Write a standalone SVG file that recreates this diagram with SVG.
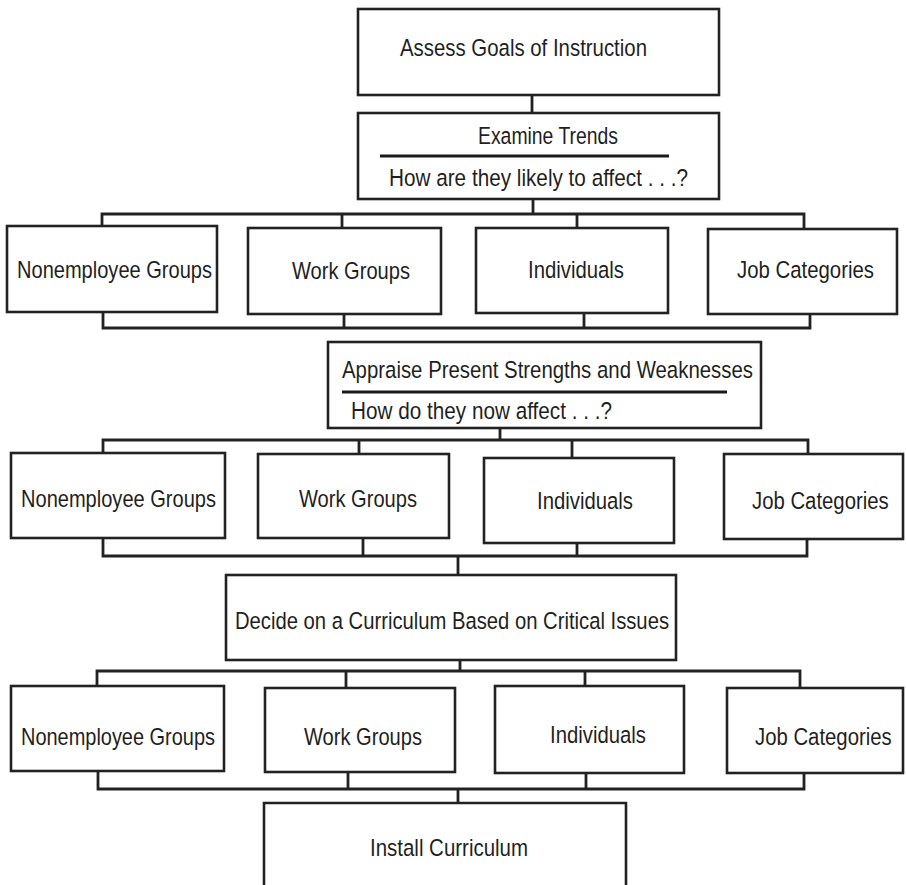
<svg xmlns="http://www.w3.org/2000/svg" width="906" height="885" viewBox="0 0 906 885">
  <style>
    .box { fill: #ffffff; stroke: #222222; stroke-width: 2.6; }
    .wire { fill: none; stroke: #222222; stroke-width: 2.8; stroke-linejoin: miter; stroke-linecap: square; }
    .rule { stroke: #1a1a1a; stroke-width: 3; }
    text { font-family: "Liberation Sans", Arial, sans-serif; font-size: 24.5px; fill: #1f1f1f; }
  </style>
  <rect width="906" height="885" fill="#ffffff"/>

  <!-- connectors -->
  <g id="connectors">
    <!-- goals to trends -->
    <path class="wire" d="M532,95 V113"/>
    <!-- trends bus -->
    <path class="wire" d="M533,199 V214 M102,226 V214 H804 V229 M342,214 V228 M577,214 V228"/>
    <!-- row 1 collector -->
    <path class="wire" d="M103,312 V328 H810 V314 M344,314 V328 M584,313 V328"/>
    <!-- appraise bus -->
    <path class="wire" d="M500,428 V440 M103,453 V440 H808 V454 M359,440 V454 M572,440 V458"/>
    <!-- row 2 collector -->
    <path class="wire" d="M103,538 V556 H807 V539 M363,538 V556 M577,543 V556 M458,556 V575"/>
    <!-- decide bus -->
    <path class="wire" d="M460,660 V671 M97,686 V671 H800 V688 M346,671 V688 M585,671 V686"/>
    <!-- row 3 collector -->
    <path class="wire" d="M98,771 V789 H804 V773 M348,772 V789 M586,773 V789 M458,789 V802"/>
  </g>

  <!-- stage nodes -->
  <g id="goals">
    <rect class="box" x="358" y="9" width="361" height="86"/>
    <text x="400" y="56" textLength="247" lengthAdjust="spacingAndGlyphs">Assess Goals of Instruction</text>
  </g>
  <g id="trends">
    <rect class="box" x="358" y="113" width="361" height="86"/>
    <text x="478" y="144" textLength="140" lengthAdjust="spacingAndGlyphs">Examine Trends</text>
    <line class="rule" x1="380" y1="156" x2="669" y2="156"/>
    <text x="389" y="186" textLength="299" lengthAdjust="spacingAndGlyphs">How are they likely to affect . . .?</text>
  </g>

  <!-- row 1 -->
  <g id="r1-nonemployee">
    <rect class="box" x="7" y="226" width="210" height="86"/>
    <text x="17" y="278" textLength="195" lengthAdjust="spacingAndGlyphs">Nonemployee Groups</text>
  </g>
  <g id="r1-work">
    <rect class="box" x="248" y="228" width="193" height="86"/>
    <text x="292" y="279" textLength="118" lengthAdjust="spacingAndGlyphs">Work Groups</text>
  </g>
  <g id="r1-individuals">
    <rect class="box" x="476" y="228" width="192" height="85"/>
    <text x="528" y="278" textLength="96" lengthAdjust="spacingAndGlyphs">Individuals</text>
  </g>
  <g id="r1-jobs">
    <rect class="box" x="708" y="229" width="189" height="85"/>
    <text x="737" y="278" textLength="137" lengthAdjust="spacingAndGlyphs">Job Categories</text>
  </g>

  <g id="appraise">
    <rect class="box" x="328" y="342" width="433" height="86"/>
    <text x="342" y="378" textLength="411" lengthAdjust="spacingAndGlyphs">Appraise Present Strengths and Weaknesses</text>
    <line class="rule" x1="342" y1="392" x2="727" y2="392"/>
    <text x="351" y="419" textLength="261" lengthAdjust="spacingAndGlyphs">How do they now affect . . .?</text>
  </g>

  <!-- row 2 -->
  <g id="r2-nonemployee">
    <rect class="box" x="11" y="453" width="214" height="85"/>
    <text x="21" y="507" textLength="195" lengthAdjust="spacingAndGlyphs">Nonemployee Groups</text>
  </g>
  <g id="r2-work">
    <rect class="box" x="258" y="454" width="191" height="84"/>
    <text x="299" y="507" textLength="118" lengthAdjust="spacingAndGlyphs">Work Groups</text>
  </g>
  <g id="r2-individuals">
    <rect class="box" x="484" y="458" width="190" height="85"/>
    <text x="537" y="509" textLength="96" lengthAdjust="spacingAndGlyphs">Individuals</text>
  </g>
  <g id="r2-jobs">
    <rect class="box" x="724" y="454" width="179" height="85"/>
    <!-- narrowed by a horizontal scale so the label sits inside the edge box -->
    <text transform="translate(752 509) scale(0.83 1)">Job Categories</text>
  </g>

  <g id="decide">
    <rect class="box" x="226" y="575" width="450" height="85"/>
    <text x="235" y="629" textLength="434" lengthAdjust="spacingAndGlyphs">Decide on a Curriculum Based on Critical Issues</text>
  </g>

  <!-- row 3 -->
  <g id="r3-nonemployee">
    <rect class="box" x="11" y="686" width="213" height="85"/>
    <text x="21" y="745" textLength="194" lengthAdjust="spacingAndGlyphs">Nonemployee Groups</text>
  </g>
  <g id="r3-work">
    <rect class="box" x="265" y="688" width="190" height="84"/>
    <text x="304" y="745" textLength="118" lengthAdjust="spacingAndGlyphs">Work Groups</text>
  </g>
  <g id="r3-individuals">
    <rect class="box" x="495" y="686" width="189" height="87"/>
    <text x="550" y="743" textLength="96" lengthAdjust="spacingAndGlyphs">Individuals</text>
  </g>
  <g id="r3-jobs">
    <rect class="box" x="727" y="688" width="176" height="85"/>
    <text transform="translate(755 745) scale(0.83 1)">Job Categories</text>
  </g>

  <!-- final stage, running off the bottom edge -->
  <g id="install">
    <path class="box" d="M264,886 V803 H626 V886"/>
    <text x="370" y="856" textLength="158" lengthAdjust="spacingAndGlyphs">Install Curriculum</text>
  </g>
</svg>
